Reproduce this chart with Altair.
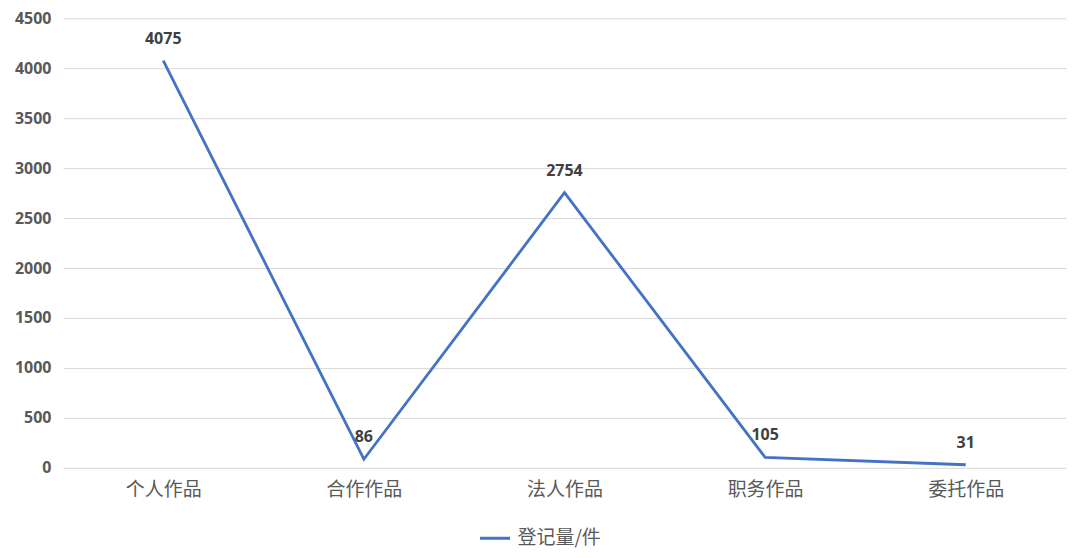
import altair as alt
import pandas as pd

categories = ["个人作品", "合作作品", "法人作品", "职务作品", "委托作品"]
values = [4075, 86, 2754, 105, 31]
series = "登记量/件"

df = pd.DataFrame({"cat": categories, "val": values, "series": [series] * len(categories)})

x = alt.X("cat:N", sort=categories, title=None,
          scale=alt.Scale(paddingInner=0, paddingOuter=0),
          axis=alt.Axis(labelAngle=0, labelFont="Noto Sans CJK SC", labelFontSize=19,
                        labelColor="#595959", labelPadding=13, ticks=False, domain=False, grid=False))
y = alt.Y("val:Q", title=None,
          scale=alt.Scale(domain=[0, 4500], nice=False),
          axis=alt.Axis(values=list(range(0, 4501, 500)), format="d", labelFont="Open Sans",
                        labelFontSize=16, labelFontWeight="bold", labelColor="#595959",
                        labelPadding=12, ticks=False, domain=False, gridColor="#D9D9D9", gridWidth=1))

line = alt.Chart(df).mark_line(strokeWidth=2.8).encode(
    x=x, y=y,
    color=alt.Color("series:N", title=None,
                    scale=alt.Scale(range=["#4472C4"]),
                    legend=alt.Legend(orient="none", legendX=416, legendY=504,
                                      symbolType="stroke", symbolStrokeWidth=3, symbolSize=900,
                                      labelFont="Noto Sans CJK SC", labelFontSize=19,
                                      labelColor="#595959", labelOffset=6)),
)

labels = alt.Chart(df).mark_text(dy=-22, fontSize=16, fontWeight="bold", font="Open Sans",
                                 color="#404040").encode(
    x=alt.X("cat:N", sort=categories),
    y=alt.Y("val:Q"),
    text=alt.Text("val:Q"),
)

chart = alt.layer(line, labels).properties(
    width=1004, height=450,
    autosize=alt.AutoSizeParams(type="none"),
    padding={"left": 55, "top": 10, "right": 6, "bottom": 88},
).configure(background="white").configure_view(stroke=None)

chart.save("out.html", embed_options={"renderer": "svg", "actions": False})
